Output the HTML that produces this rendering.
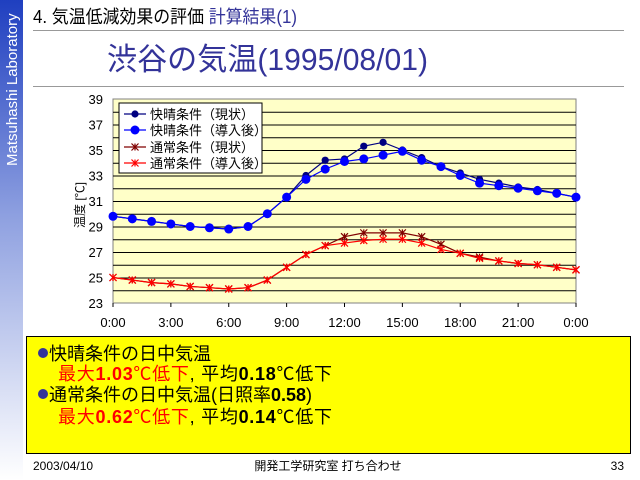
<!DOCTYPE html>
<html><head><meta charset="utf-8"><style>
html,body{margin:0;padding:0;background:#fff;}
body{width:640px;height:480px;overflow:hidden;position:relative;font-family:"Liberation Sans","Noto Sans CJK JP",sans-serif;}
</style></head><body>
<svg width="640" height="480" viewBox="0 0 640 480" xmlns="http://www.w3.org/2000/svg" style="position:absolute;left:0;top:0" font-family="Liberation Sans, Noto Sans CJK JP, sans-serif">
<defs>
<linearGradient id="sb" x1="0" y1="0" x2="0" y2="1">
<stop offset="0" stop-color="#1f3fc0"/><stop offset="0.45" stop-color="#8ea0e0"/><stop offset="1" stop-color="#ffffff"/>
</linearGradient>
</defs>
<rect x="0" y="0" width="23" height="480" fill="url(#sb)"/>
<text transform="translate(17,166) rotate(-90)" font-size="15" fill="#fff">Matsuhashi Laboratory</text>
<text x="33" y="23" font-size="18" fill="#000" textLength="264" lengthAdjust="spacingAndGlyphs">4. 気温低減効果の評価 <tspan fill="#333399">計算結果(1)</tspan></text>
<line x1="33" y1="30.5" x2="624" y2="30.5" stroke="#999" stroke-width="1"/>
<text x="107" y="70" font-size="31" fill="#333399" textLength="321" lengthAdjust="spacingAndGlyphs">渋谷の気温(1995/08/01)</text>
<line x1="33" y1="86.5" x2="624" y2="86.5" stroke="#999" stroke-width="1"/>
<rect x="113" y="99" width="463" height="204" fill="#ffffc8" stroke="#808080"/>
<g id="grid" stroke="#000" stroke-width="1"></g>
<g font-size="13" fill="#000" text-anchor="end" id="ylab"></g>
<g font-size="13" fill="#000" text-anchor="middle" id="xlab"></g>
<text transform="translate(84,205) rotate(-90)" font-size="12" text-anchor="middle">温度 [℃]</text>
<g id="series"></g>
<rect x="119" y="103" width="143" height="70" fill="#fff" stroke="#000"/>
<g font-size="13" fill="#000">
<text x="150" y="119">快晴条件（現状）</text>
<text x="150" y="135">快晴条件（導入後）</text>
<text x="150" y="152">通常条件（現状）</text>
<text x="150" y="168">通常条件（導入後）</text>
</g>
<g id="leg"></g>
<rect x="26.5" y="336.5" width="604" height="117" fill="#ffff00" stroke="#000"/>
<g font-size="18">
<circle cx="43" cy="353" r="5" fill="#333399"/>
<text x="49" y="360">快晴条件の日中気温</text>
<text x="58" y="380" textLength="274"><tspan fill="#ff0000">最大<tspan font-weight="bold">1.03</tspan>℃低下</tspan>, 平均<tspan font-weight="bold">0.18</tspan>℃低下</text>
<circle cx="43" cy="394" r="5" fill="#333399"/>
<text x="49" y="401">通常条件の日中気温(日照率<tspan font-weight="bold">0.58</tspan>)</text>
<text x="58" y="423" textLength="274"><tspan fill="#ff0000">最大<tspan font-weight="bold">0.62</tspan>℃低下</tspan>, 平均<tspan font-weight="bold">0.14</tspan>℃低下</text>
</g>
<text x="33" y="470" font-size="12">2003/04/10</text>
<text x="328" y="470" font-size="12" text-anchor="middle">開発工学研究室 打ち合わせ</text>
<text x="624" y="470" font-size="12" text-anchor="end">33</text>
</svg>
<script>
var NS="http://www.w3.org/2000/svg";
function el(p,n,a){var e=document.createElementNS(NS,n);for(var k in a)e.setAttribute(k,a[k]);p.appendChild(e);return e;}
function X(h){return 113+h*463/24;}
function Y(v){return 303-(v-23)*12.75;}
var g=document.getElementById('grid');
for(var v=24;v<39;v++){el(g,'line',{x1:113,x2:576,y1:Y(v)+.5,y2:Y(v)+.5});}
var yl=document.getElementById('ylab');
for(var v=23;v<=39;v+=2){var t=el(yl,'text',{x:103,y:Y(v)+5});t.textContent=v;}
var xl=document.getElementById('xlab');
var labs=['0:00','3:00','6:00','9:00','12:00','15:00','18:00','21:00','0:00'];
for(var i=0;i<9;i++){var t=el(xl,'text',{x:X(i*3),y:327});t.textContent=labs[i];el(g,'line',{x1:X(i*3),x2:X(i*3),y1:303,y2:307});}
var base=[29.8,29.6,29.4,29.2,29.0,28.9,28.8,29.0,30.0,31.3];
var navy=base.concat([33.0,34.2,34.3,35.3,35.6,35.0,34.4,33.7,33.2,32.7,32.4,32.1,31.9,31.6,31.3]);
var blue=base.concat([32.7,33.5,34.1,34.3,34.6,34.9,34.2,33.7,33.0,32.4,32.2,32.0,31.8,31.6,31.3]);
var rb=[25.0,24.8,24.6,24.5,24.3,24.2,24.1,24.2,24.8,25.8,26.8,27.5];
var dred=rb.concat([28.2,28.5,28.5,28.5,28.2,27.6,26.9,26.6,26.3,26.1,26.0,25.8,25.6]);
var red=rb.concat([27.7,27.9,28.0,28.0,27.7,27.2,26.9,26.5,26.3,26.1,26.0,25.8,25.6]);
var s=document.getElementById('series');
function marker(p,x,y,type,c){
 if(type=='d'){el(p,'circle',{cx:x,cy:y,r:3.6,fill:c});}
 else if(type=='c'){el(p,'circle',{cx:x,cy:y,r:4.5,fill:c});}
 else{el(p,'path',{d:'M'+(x-3.5)+' '+(y-3.5)+'L'+(x+3.5)+' '+(y+3.5)+'M'+(x-3.5)+' '+(y+3.5)+'L'+(x+3.5)+' '+(y-3.5)+'M'+x+' '+(y-3.5)+'L'+x+' '+(y+3.5),stroke:c,'stroke-width':1.2,fill:'none'});}
}
function series(d,c,type){
 var pts=d.map(function(v,i){return X(i)+','+Y(v);}).join(' ');
 el(s,'polyline',{points:pts,fill:'none',stroke:c,'stroke-width':1.2});
 d.forEach(function(v,i){marker(s,X(i),Y(v),type,c);});
}
series(dred,'#800000','x');series(red,'#ff0000','x');
series(navy,'#000080','d');series(blue,'#0000ff','c');
var lg=document.getElementById('leg');
var L=[['#000080','d',114],['#0000ff','c',130],['#800000','x',147],['#ff0000','x',163]];
L.forEach(function(a){el(lg,'line',{x1:124,x2:146,y1:a[2],y2:a[2],stroke:a[0],'stroke-width':1.2});marker(lg,135,a[2],a[1],a[0]);});
</script>
</body></html>
